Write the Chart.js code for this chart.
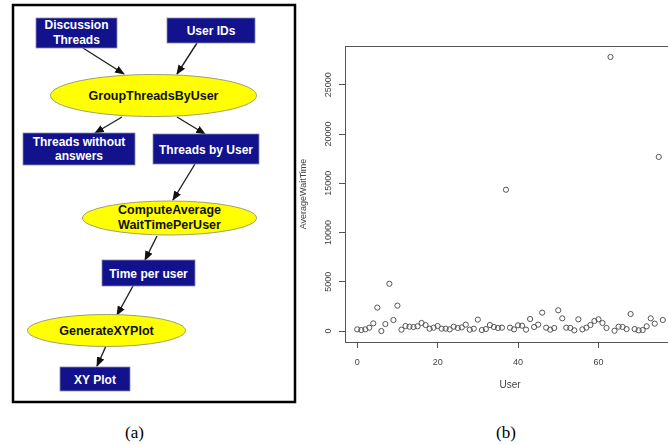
<!DOCTYPE html>
<html>
<head>
<meta charset="utf-8">
<script src="https://cdn.jsdelivr.net/npm/chart.js@4.4.1/dist/chart.umd.min.js"></script>
<style>
    html, body { margin: 0; padding: 0; background: #fff; }
    body { width: 668px; height: 445px; overflow: hidden; position: relative; font-family: "Liberation Sans", Arial, sans-serif; }
    #flow { position: absolute; left: 0; top: 0; }
    #plotBox { position: absolute; left: 297px; top: 0; width: 383px; height: 400px; }
    .cap { position: absolute; top: 423px; font-family: "Liberation Serif", "Times New Roman", serif; font-size: 17px; }
</style>
</head>
<body>

<svg id="flow" width="300" height="420" xmlns="http://www.w3.org/2000/svg">
    <defs>
        <marker id="arr" viewBox="0 0 10 10" refX="9" refY="5" markerWidth="7" markerHeight="7" orient="auto">
            <path d="M0,1 L10,5 L0,9 z" fill="#111"/>
        </marker>
    </defs>
    <rect x="13" y="5" width="282" height="397" fill="none" stroke="#000" stroke-width="2.5"/>

    <g stroke="#222" stroke-width="1.4" marker-end="url(#arr)">
        <line x1="83" y1="48" x2="124" y2="74"/>
        <line x1="197" y1="43" x2="177" y2="74"/>
        <line x1="122" y1="117" x2="95" y2="133"/>
        <line x1="177" y1="117" x2="205" y2="134"/>
        <line x1="195" y1="164" x2="173" y2="200"/>
        <line x1="157" y1="236" x2="145" y2="260"/>
        <line x1="133" y1="286" x2="117" y2="315"/>
        <line x1="106" y1="346" x2="97" y2="366"/>
    </g>

    <g fill="#12128c" stroke="#8a8ab0" stroke-width="0.8">
        <rect x="36" y="18" width="81" height="30"/>
        <rect x="167" y="18" width="88" height="25"/>
        <rect x="23" y="133" width="112" height="32"/>
        <rect x="153" y="134" width="106" height="30"/>
        <rect x="102" y="260" width="93" height="26"/>
        <rect x="60" y="367" width="70" height="24"/>
    </g>
    <g fill="#ffff00" stroke="#a0a070" stroke-width="1">
        <ellipse cx="153.5" cy="95.5" rx="103" ry="21"/>
        <ellipse cx="169.5" cy="218" rx="87" ry="17"/>
        <ellipse cx="106.5" cy="330.5" rx="79" ry="16"/>
    </g>

    <g fill="#fff" font-weight="bold" font-size="12" text-anchor="middle">
        <text x="76.5" y="29">Discussion</text>
        <text x="76.5" y="44">Threads</text>
        <text x="211" y="35">User IDs</text>
        <text x="79" y="146">Threads without</text>
        <text x="79" y="160">answers</text>
        <text x="206" y="153.5">Threads by User</text>
        <text x="148.5" y="277.5">Time per user</text>
        <text x="95" y="384">XY Plot</text>
    </g>
    <g fill="#111" font-weight="bold" font-size="12.5" text-anchor="middle">
        <text x="153.5" y="100">GroupThreadsByUser</text>
        <text x="169.5" y="214">ComputeAverage</text>
        <text x="169.5" y="228.5">WaitTimePerUser</text>
        <text x="106.5" y="335">GenerateXYPlot</text>
    </g>
</svg>

<div id="plotBox"><canvas id="waitChart"></canvas></div>

<div class="cap" style="left:125px">(a)</div>
<div class="cap" style="left:496px">(b)</div>

<script>
// average wait time per user, user index = position in the list
const waitTime = [
    170, 100, 170, 340, 780, 2380, 0, 710, 4800, 1120,
    2580, 140, 510, 440, 410, 480, 820, 610, 240, 340,
    510, 240, 240, 170, 440, 310, 370, 650, 140, 240,
    1160, 100, 200, 610, 410, 310, 340, 14350, 340, 170,
    580, 540, 140, 1220, 410, 650, 1870, 340, 140, 310,
    2110, 1290, 340, 310, 70, 1190, 170, 340, 610, 1020,
    1190, 820, 310, 27830, 30, 440, 410, 200, 1730, 200,
    70, 100, 480, 1290, 750, 17680, 1120
];
const xTicks = [0, 20, 40, 60];
const yTicks = [0, 5000, 10000, 15000, 20000, 25000];

const axisColor = '#555';
const tickFont = { family: 'Liberation Sans, Arial, sans-serif', size: 9 };

// R style box round the plotting region
const frameBox = {
    id: 'frameBox',
    afterDraw(chart) {
        const { ctx, chartArea: a } = chart;
        ctx.save();
        ctx.strokeStyle = axisColor;
        ctx.lineWidth = 1;
        ctx.strokeRect(Math.round(a.left) + 0.5, Math.round(a.top) + 0.5, a.right - a.left, a.bottom - a.top);
        ctx.restore();
    }
};

const points = waitTime.map((v, i) => ({ x: i, y: v }));

new Chart(document.getElementById('waitChart'), {
    type: 'scatter',
    data: {
        datasets: [{
            data: points,
            pointRadius: 2.6,
            pointBorderWidth: 1,
            borderColor: '#555',
            backgroundColor: 'rgba(0,0,0,0)'
        }]
    },
    options: {
        responsive: true,
        maintainAspectRatio: false,
        animation: false,
        layout: { padding: { top: 46, right: 2, left: 0, bottom: 0 } },
        plugins: {
            legend: { display: false },
            tooltip: { enabled: false }
        },
        scales: {
            x: {
                type: 'linear',
                min: -3.04,
                max: 79.04,
                afterBuildTicks: s => { s.ticks = xTicks.map(v => ({ value: v })); },
                afterFit: s => { s.height = 58; },
                grid: { drawOnChartArea: false, tickLength: 6, color: axisColor },
                border: { display: true, color: axisColor },
                ticks: { font: tickFont, color: '#444', padding: 9, maxRotation: 0 },
                title: {
                    display: true, text: 'User', color: '#444',
                    font: { family: 'Liberation Sans, Arial, sans-serif', size: 10 },
                    padding: { top: 0, bottom: 9 }
                }
            },
            y: {
                type: 'linear',
                min: -1113,
                max: 28943,
                afterBuildTicks: s => { s.ticks = yTicks.map(v => ({ value: v })); },
                afterFit: s => { s.width = 48; },
                grid: { drawOnChartArea: false, tickLength: 6, color: axisColor },
                border: { display: true, color: axisColor },
                ticks: {
                    font: tickFont, color: '#444', padding: -2,
                    minRotation: 90, maxRotation: 90, crossAlign: 'center',
                    callback: v => String(v)
                },
                title: {
                    display: true, text: 'AverageWaitTime', color: '#444',
                    font: { family: 'Liberation Sans, Arial, sans-serif', size: 9 },
                    padding: { top: 1, bottom: 0 }
                }
            }
        }
    },
    plugins: [frameBox]
});
</script>
</body>
</html>
